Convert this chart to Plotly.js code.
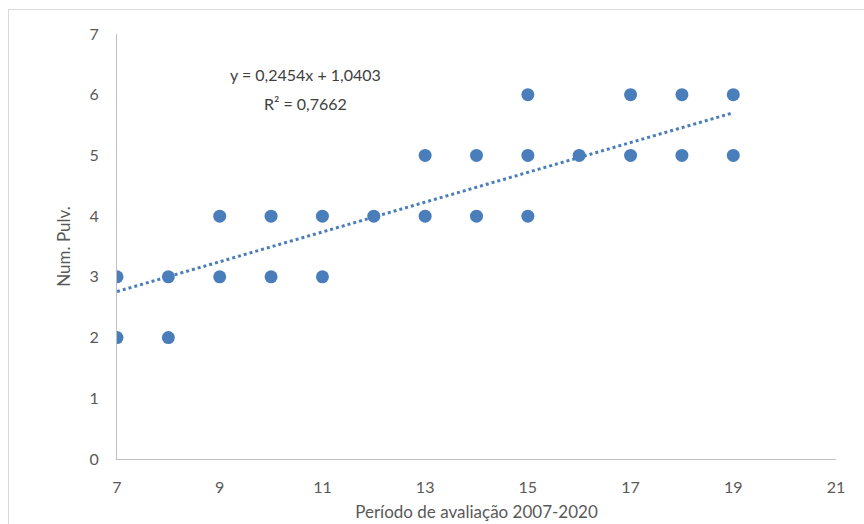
<!DOCTYPE html>
<html><head><meta charset="utf-8">
<script src="https://cdn.plot.ly/plotly-3.0.1.min.js"></script>
<style>body{margin:0;background:#fff;} #frame{position:absolute;left:8px;top:9px;width:900px;height:560px;border:1px solid #d9d9d9;pointer-events:none;} #chart{width:864px;height:524px;}</style>
</head><body>
<div id="chart"></div><div id="frame"></div>
<script>
const xVals = [7,7,8,8,9,9,10,10,11,11,12,13,13,14,14,15,15,15,16,17,17,18,18,19,19];
const yVals = [3,2,3,2,4,3,4,3,4,3,4,5,4,5,4,6,5,4,5,6,5,6,5,6,5];
const slope = 0.2454, intercept = 1.0403;
const trendX = [7,19];
const trendY = trendX.map(x => slope*x + intercept);
const eqText = "y = 0,2454x + 1,0403";
const r2Text = "R² = 0,7662";
const xTitle = "Período de avaliação 2007-2020";
const yTitle = "Num. Pulv.";
const font = "Lato, 'Open Sans', sans-serif";
const col = "#4a7ebb";
Plotly.newPlot("chart", [
  {x: trendX, y: trendY, mode: "lines", line: {color: col, width: 3, dash: "dot"}, hoverinfo: "skip"},
  {x: xVals, y: yVals, mode: "markers", marker: {color: col, size: 13}}
], {
  width: 864, height: 524, showlegend: false,
  margin: {l: 117, r: 28, t: 34, b: 65},
  paper_bgcolor: "#fff", plot_bgcolor: "#fff",
  font: {family: font, color: "#595959", size: 16},
  xaxis: {range: [7,21], tickvals: [7,9,11,13,15,17,19,21], showgrid: false, zeroline: false,
    showline: true, linecolor: "#bfbfbf", linewidth: 1, ticks: "outside", ticklen: 14, tickcolor: "rgba(0,0,0,0)",
    title: {text: xTitle, font: {size: 17, color: "#595959"}, standoff: 10}},
  yaxis: {range: [0,7], dtick: 1, showgrid: false, zeroline: false,
    showline: true, linecolor: "#bfbfbf", linewidth: 1, ticks: "outside", ticklen: 14, tickcolor: "rgba(0,0,0,0)",
    title: {text: yTitle, font: {size: 17, color: "#595959"}, standoff: 14}},
  annotations: [
    {xref: "paper", yref: "paper", x: (305-117)/719, y: (459-75)/425, xanchor: "center", yanchor: "middle", text: eqText, showarrow: false, font: {size: 16, color: "#404040"}},
    {xref: "paper", yref: "paper", x: (305-117)/719, y: (459-103)/425, xanchor: "center", yanchor: "middle", text: r2Text, showarrow: false, font: {size: 16, color: "#404040"}}
  ]
}, {displayModeBar: false, staticPlot: true});
</script>
</body></html>
